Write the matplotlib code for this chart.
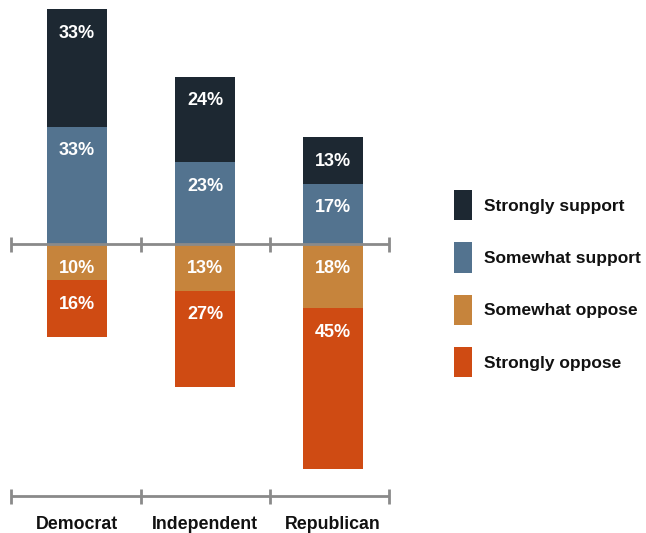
import matplotlib.pyplot as plt
from matplotlib.patches import Patch

plt.rcParams['font.family'] = ['Liberation Sans', 'DejaVu Sans']

parties = ['Democrat', 'Independent', 'Republican']
strongly_support = [33, 24, 13]
somewhat_support = [33, 23, 17]
somewhat_oppose = [10, 13, 18]
strongly_oppose = [16, 27, 45]

colors = {
    'Strongly support': '#1d2832',
    'Somewhat support': '#53738f',
    'Somewhat oppose': '#c6843c',
    'Strongly oppose': '#cf4b13',
}

fig = plt.figure(figsize=(6.46, 5.33), dpi=100)
ax = fig.add_axes([0, 0, 1, 1])
ax.set_xlim(-0.6016, 4.445)
ax.set_ylim(-81.0, 68.5)
ax.axis('off')

x = list(range(len(parties)))
w = 0.47

def label_segments(tops, values):
    for xi, top, v in zip(x, tops, values):
        ax.annotate(f'{v}%', (xi, top), xytext=(0, -17.5), textcoords='offset points',
                    ha='center', va='center', color='white', fontsize=13,
                    fontweight='bold')

# support side (stacked upwards)
ax.bar(x, somewhat_support, width=w, color=colors['Somewhat support'])
ax.bar(x, strongly_support, width=w, bottom=somewhat_support,
       color=colors['Strongly support'])
label_segments([a + b for a, b in zip(somewhat_support, strongly_support)], strongly_support)
label_segments(somewhat_support, somewhat_support)

# oppose side (stacked downwards)
neg_so = [-v for v in somewhat_oppose]
neg_st = [-v for v in strongly_oppose]
ax.bar(x, neg_so, width=w, color=colors['Somewhat oppose'])
ax.bar(x, neg_st, width=w, bottom=neg_so, color=colors['Strongly oppose'])
label_segments([0] * 3, somewhat_oppose)
label_segments(neg_so, strongly_oppose)

# axis lines with ticks
ticks = [-0.516, 0.5, 1.508, 2.4375]
axis_color = '#8a8a8a'
for y0, th in [(0, 2.1), (-70.7, 2.1)]:
    ax.hlines(y0, ticks[0], ticks[-1], color=axis_color, lw=2, zorder=3)
    ax.vlines(ticks, y0 - th, y0 + th, color=axis_color, lw=2, zorder=3)

for xi, name in zip(x, parties):
    ax.text(xi, -78.5, name, ha='center', va='center', fontsize=12.8,
            fontweight='bold', color='#111111')

handles = [Patch(facecolor=c, edgecolor='none') for c in colors.values()]
leg = fig.legend(handles, list(colors.keys()), loc='upper left',
                 bbox_to_anchor=(454 / 646, 1 - 190 / 533), frameon=False,
                 borderpad=0, borderaxespad=0, fontsize=12.5,
                 handlelength=1.04, handleheight=2.32, labelspacing=1.26,
                 handletextpad=0.69)
for t in leg.get_texts():
    t.set_fontweight('bold')
    t.set_color('#111111')

fig.savefig('out.png', dpi=100)
